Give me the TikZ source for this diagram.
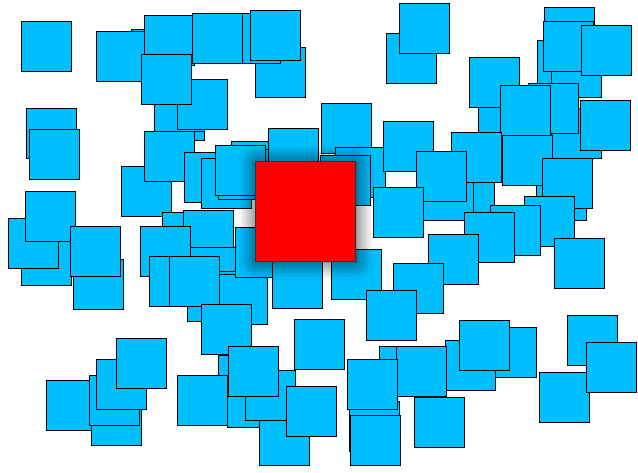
\documentclass[tikz,border=0pt]{standalone}
\usetikzlibrary{shadows,shadows.blur}
\definecolor{tileblue}{HTML}{00BFFF}
\begin{document}
\begin{tikzpicture}[x=1pt,y=-1pt,
  tile/.style={fill=tileblue, draw=black, line width=0.8pt,
    drop shadow={shadow xshift=1pt, shadow yshift=-1pt, opacity=0.35, fill=black}},
  bigtile/.style={fill=red, draw=black!80, line width=0.8pt,
    blur shadow={shadow xshift=1pt, shadow yshift=-1pt, shadow blur radius=17pt,
      shadow blur steps=24, shadow opacity=75}}]
  \useasboundingbox (0,0) rectangle (638,472);

  % blue tiles, back to front
  \foreach \x/\y in {21/21, 131/29, 96/31, 144/15, 255/47, 230/13, 192/13, 250/10,
      154/90, 154/81, 177/79, 141/54, 26/108, 29/129, 121/166, 144/131,
      184/152, 201/158, 231/141, 218/149, 215/145, 268/128,
      73/259, 21/235, 8/218, 25/191, 70/226, 162/212, 183/210, 140/226,
      190/247, 187/271, 217/274, 149/256, 169/256, 201/304, 235/227, 272/258,
      294/319, 46/380, 91/395, 89/375, 96/359, 116/338,
      218/355, 227/377, 177/375, 259/415, 245/370, 228/346, 286/386}
    \draw[tile] (\x,\y) rectangle ++(50,50);
  \foreach \x/\y in {386/33, 399/3, 537/40, 544/7, 551/47, 543/21, 581/25,
      478/107, 469/57, 551/108, 528/83, 500/85, 580/100,
      321/103, 335/147, 320/155, 383/121, 444/163, 423/170, 451/132, 416/151,
      373/187, 536/170, 502/135, 542/158, 524/196, 490/205, 464/212, 428/234,
      331/249, 393/263, 366/290, 554/238,
      486/327, 445/340, 459/320, 379/346, 396/346, 349/401, 350/415, 347/359,
      414/397, 567/315, 539/372, 586/342}
    \draw[tile] (\x,\y) rectangle ++(50,50);

  % red tile on top
  \draw[bigtile] (255,161) rectangle ++(100,100);
\end{tikzpicture}
\end{document}
